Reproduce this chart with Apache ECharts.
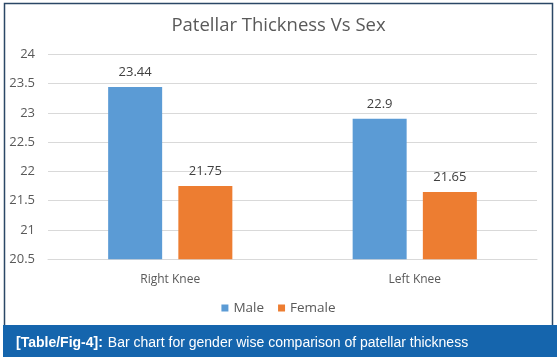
<!DOCTYPE html>
<html><head><meta charset="utf-8">
<script src="https://cdn.jsdelivr.net/npm/echarts@6/dist/echarts.min.js"></script>
<style>html,body{margin:0;padding:0;background:#fff}#c{width:557px;height:361px}</style>
</head><body><div id="c"></div>
<script>
const categories = ['Right Knee', 'Left Knee'];
const maleValues = [23.44, 22.9];
const femaleValues = [21.75, 21.65];
const seriesNames = ['Male', 'Female'];
const chartTitle = 'Patellar Thickness Vs Sex';
const captionBold = '[Table/Fig-4]:';
const captionText = 'Bar chart for gender wise comparison of patellar thickness';

const chart = echarts.init(document.getElementById('c'), null, {renderer: 'canvas'});
const labelStyle = {show: true, position: 'top', distance: 8, color: '#404040', fontSize: 13, fontFamily: 'Open Sans'};
chart.setOption({
  animation: false,
  graphic: [
    {type: 'rect', shape: {x: 4.5, y: 3.5, width: 548, height: 330}, style: {fill: '#fff', stroke: '#2b4766', lineWidth: 1.5}, z: -10},
    {type: 'rect', shape: {x: 3, y: 325, width: 554, height: 32}, style: {fill: '#1565ad'}, z: -5}
  ],
  title: [
    {text: chartTitle, left: 'center', top: 11, textStyle: {fontFamily: 'Open Sans', fontSize: 18.5, fontWeight: 'normal', color: '#595959'}},
    {text: '{b|' + captionBold + '} {n|' + captionText + '}', left: 11, top: 329,
     textStyle: {fontWeight: 'normal', rich: {
       b: {fontFamily: 'Liberation Sans', fontSize: 14, fontWeight: 'bold', color: '#fff'},
       n: {fontFamily: 'Liberation Sans', fontSize: 14, fontWeight: 'normal', color: '#fff'}
     }}}
  ],
  legend: {data: seriesNames, bottom: 41, left: 'center', itemWidth: 7, itemHeight: 7, itemGap: 14, icon: 'rect',
    textStyle: {fontFamily: 'Open Sans', fontSize: 13.5, color: '#595959'}},
  grid: {left: 48, right: 20, top: 54.3, bottom: 101.7},
  xAxis: {type: 'category', data: categories,
    axisLine: {show: true, lineStyle: {color: '#d9d9d9'}}, axisTick: {show: false},
    axisLabel: {fontFamily: 'Open Sans', fontSize: 12, color: '#595959', margin: 14}},
  yAxis: {type: 'value', min: 20.5, max: 24, interval: 0.5,
    axisLine: {show: false}, axisTick: {show: false},
    splitLine: {lineStyle: {color: '#d9d9d9'}},
    axisLabel: {fontFamily: 'Open Sans', fontSize: 13, color: '#595959', margin: 13}},
  series: [
    {name: seriesNames[0], type: 'bar', data: maleValues, barWidth: 54, barGap: '30%', itemStyle: {color: '#5b9bd5'}, label: labelStyle},
    {name: seriesNames[1], type: 'bar', data: femaleValues, barWidth: 54, itemStyle: {color: '#ed7d31'}, label: labelStyle}
  ]
});
</script></body></html>
